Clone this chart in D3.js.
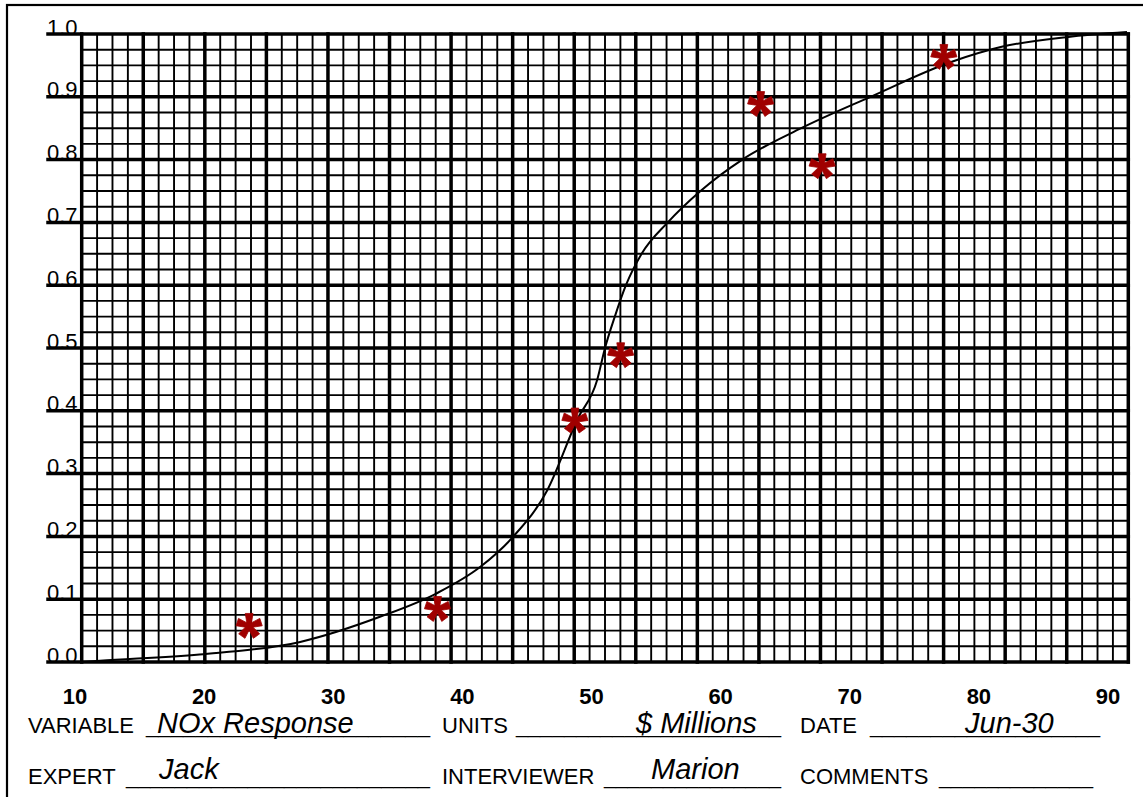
<!DOCTYPE html>
<html><head><meta charset="utf-8">
<script src="https://cdn.jsdelivr.net/npm/d3@7"></script>
<style>
body{margin:0;background:#fff}
svg{display:block}
text{font-family:"Liberation Sans",Arial,Helvetica,sans-serif;fill:#000}
</style>
</head><body>
<svg id="chart" width="1143" height="797"></svg>
<script>
// ---------- data ----------
const yTickValues = [0, 0.1, 0.2, 0.3, 0.4, 0.5, 0.6, 0.7, 0.8, 0.9, 1.0];
const yTickLabels = ["0.0","0.1","0.2","0.3","0.4","0.5","0.6","0.7","0.8","0.9","1.0"];
const xTickLabels = ["10","20","30","40","50","60","70","80","90"];

// fitted curve
const curveX = [10, 11.4, 19.0, 26.7, 32.8, 37.1, 40.5, 43.0, 45.6, 47.9, 49.4, 50.0, 50.75, 51.6, 52.8, 54.8, 57.3, 60.5, 65.0, 70.3, 76.4, 80.4, 85.3, 89.9];
const curveY = [0, 0.002, 0.012, 0.032, 0.072, 0.109, 0.152, 0.2, 0.274, 0.387, 0.449, 0.5, 0.55, 0.6, 0.65, 0.7, 0.75, 0.8, 0.85, 0.9, 0.955, 0.98, 0.995, 1.003];

// elicited points
const pointX = [22.8, 37.2, 47.7, 51.2, 61.9, 66.6, 75.9];
const pointY = [0.059, 0.086, 0.386, 0.49, 0.89, 0.791, 0.965];

// form fields
const formLabels = ["VARIABLE", "UNITS", "DATE", "EXPERT", "INTERVIEWER", "COMMENTS"];
const formValues = ["NOx Response", "$ Millions", "Jun-30", "Jack", "Marion", ""];

// graph paper structure
const paperMajorCols = 17, paperMajorRows = 10, paperSub = 4;

// ---------- layout ----------
const svg = d3.select("#chart");
const L = 81.7, R = 1128.3, T = 34, B = 662;

const x = d3.scaleLinear().domain([10, 90]).range([L, R]);
const y = d3.scaleLinear().domain([0, 1]).range([B, T]);
const paperX = d3.scaleLinear().domain([0, paperMajorCols * paperSub]).range([L, R]);
const labelX = d3.scalePoint().domain(xTickLabels).range([75, 1108]);

// outer frame
svg.append("rect").attr("x", 7).attr("y", 5).attr("width", 1150).attr("height", 810)
  .attr("fill", "none").attr("stroke", "#000").attr("stroke-width", 2.2);

const grid = svg.append("g");
const colIdx = d3.range(0, paperMajorCols * paperSub + 1);
const rowVals = d3.range(0, paperMajorRows * paperSub + 1).map(j => j / (paperMajorRows * paperSub));

// minor lines
grid.selectAll("line.vmin").data(colIdx.filter(i => i % paperSub)).join("line")
  .attr("x1", d => paperX(d)).attr("x2", d => paperX(d)).attr("y1", T).attr("y2", B)
  .attr("stroke", "#000").attr("stroke-width", 1.9);
grid.selectAll("line.hmin").data(rowVals.filter((v, j) => j % paperSub)).join("line")
  .attr("y1", d => y(d)).attr("y2", d => y(d)).attr("x1", L).attr("x2", R)
  .attr("stroke", "#000").attr("stroke-width", 1.9);
// major lines
grid.selectAll("line.vmaj").data(colIdx.filter(i => i % paperSub === 0)).join("line")
  .attr("x1", d => paperX(d)).attr("x2", d => paperX(d)).attr("y1", T).attr("y2", B)
  .attr("stroke", "#000").attr("stroke-width", 3.5).attr("stroke-linecap", "square");
grid.selectAll("line.hmaj").data(yTickValues).join("line")
  .attr("y1", d => y(d)).attr("y2", d => y(d)).attr("x1", 48).attr("x2", R)
  .attr("stroke", "#000").attr("stroke-width", 3.5).attr("stroke-linecap", "square");

// y labels
svg.append("g").selectAll("text").data(yTickValues).join("text")
  .attr("x", 77.5).attr("y", d => y(d) + 0.5)
  .attr("text-anchor", "end").attr("font-size", 22)
  .text((d, i) => yTickLabels[i]);

// x labels
svg.append("g").selectAll("text").data(xTickLabels).join("text")
  .attr("x", d => labelX(d)).attr("y", 704)
  .attr("text-anchor", "middle").attr("font-size", 22).attr("font-weight", "bold")
  .text(d => d);

// curve
const line = d3.line().x(d => x(d[0])).y(d => y(d[1])).curve(d3.curveMonotoneX);
svg.append("path").datum(curveX.map((v, i) => [v, curveY[i]]))
  .attr("d", line).attr("fill", "none").attr("stroke", "#000").attr("stroke-width", 2);

// asterisk markers
function asteriskPath(r) {
  const p = d3.path();
  for (let k = 0; k < 5; k++) {
    const a = -Math.PI / 2 + k * 2 * Math.PI / 5;
    const ca = Math.cos(a), sa = Math.sin(a), px = -sa, py = ca;
    const w0 = 1.8, w1 = 3.9;
    p.moveTo(px * w0, py * w0);
    p.lineTo(ca * r + px * w1, sa * r + py * w1);
    p.lineTo(ca * r - px * w1, sa * r - py * w1);
    p.lineTo(-px * w0, -py * w0);
    p.closePath();
  }
  return p.toString();
}
svg.append("g").selectAll("path").data(pointX.map((v, i) => [v, pointY[i]])).join("path")
  .attr("transform", d => `translate(${x(d[0])},${y(d[1]) + 1})`)
  .attr("d", asteriskPath(12.5)).attr("fill", "#a00000").attr("stroke", "#a00000")
  .attr("stroke-width", 0.8).attr("stroke-linejoin", "round");

// form area
const rowBase = [733, 784];
const labelStart = [28, 442, 800];
const lineSpans = [[146, 430], [516, 781], [870, 1100], [126, 430], [604, 781], [939, 1093]];
const valueStart = [157, 636, 965, 159, 651, 0];
const form = svg.append("g");
formLabels.forEach((lab, i) => {
  const row = Math.floor(i / 3), col = i % 3;
  const yb = rowBase[row];
  form.append("text").attr("x", labelStart[col]).attr("y", yb).attr("font-size", 22).text(lab);
  const [a, b] = lineSpans[i];
  const n = Math.round((b - a) / 12.2);
  form.append("text").attr("x", a).attr("y", yb).attr("font-size", 22)
    .attr("textLength", b - a).attr("lengthAdjust", "spacingAndGlyphs")
    .text("_".repeat(n));
  if (formValues[i]) {
    form.append("text").attr("x", valueStart[i]).attr("y", yb - (row === 1 ? 5 : 0))
      .attr("font-size", 29).attr("font-style", "italic").text(formValues[i]);
  }
});
</script>
</body></html>
